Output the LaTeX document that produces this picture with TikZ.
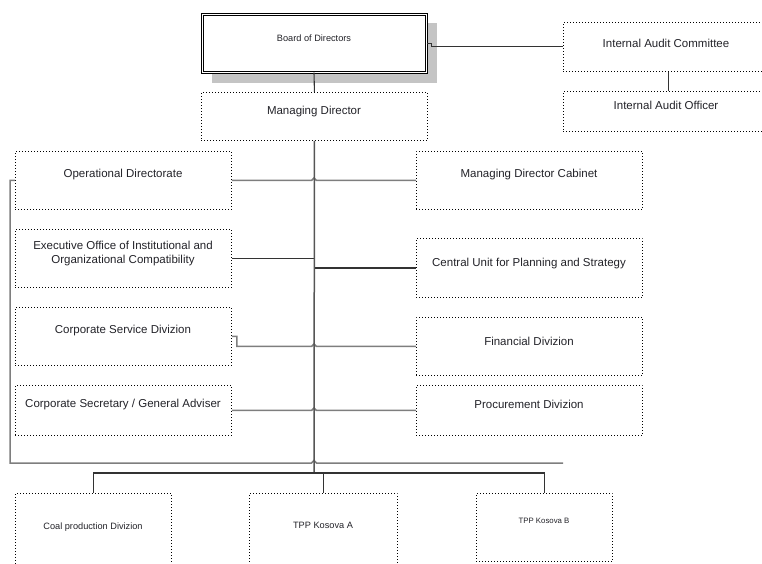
\documentclass[tikz,border=0pt]{standalone}
\usepackage{fontspec}
\setmainfont{Liberation Sans}
\usetikzlibrary{calc}
\definecolor{txt}{HTML}{222228}
\definecolor{lgray}{HTML}{7E7E7E}
\definecolor{dkline}{HTML}{333333}
\definecolor{trunkc}{HTML}{555555}
\definecolor{shadowc}{HTML}{C4C4C4}
\begin{document}
\begin{tikzpicture}[x=1pt,y=-1pt,
  box/.style={draw=black, line width=0.9pt, dash pattern=on 0.9pt off 2.1pt, rectangle, inner sep=0pt, anchor=north west},
  lbl/.style={text=txt, font=\fontsize{11.5}{14}\selectfont, align=center, inner sep=0pt, yshift=-2.5pt},
  slbl/.style={text=txt, font=\fontsize{9.2}{11}\selectfont, align=center, inner sep=0pt, yshift=-1.5pt},
  dk/.style={draw=dkline, line width=1.1pt},
  gr/.style={draw=lgray, line width=1.5pt},
  tr/.style={draw=trunkc, line width=1.5pt},
]
\useasboundingbox (0,0) rectangle (762,564);
% Board of Directors with shadow
\fill[shadowc] (212,23) rectangle (437,83);
\node[draw=black, double, double distance=1.6pt, line width=0.7pt, fill=white, rectangle, inner sep=0pt,
      minimum width=224pt, minimum height=58pt, anchor=north west] (bod) at (202,14) {};
\node[slbl] (bodt) at (314,37) {Board of Directors};
% top boxes
\node[box, minimum width=226pt, minimum height=48pt] (md) at (201,92) {};
\node[lbl] (mdt) at (314,109) {Managing Director};
\node[box, minimum width=210pt, minimum height=49pt] (iac) at (563,22) {};
\node[lbl] (iact) at (666,41) {Internal Audit Committee};
\node[box, minimum width=210pt, minimum height=40pt] (iao) at (563,91) {};
\node[lbl] (iaot) at (666,103) {Internal Audit Officer};
% left column
\node[box, minimum width=216pt, minimum height=58pt] (opd) at (15,151) {};
\node[lbl] (opdt) at (123,172) {Operational Directorate};
\node[box, minimum width=216pt, minimum height=58pt] (exo) at (15,229) {};
\node[lbl] (exot) at (123,251) {Executive Office of Institutional and\\Organizational Compatibility};
\node[box, minimum width=216pt, minimum height=58pt] (csd) at (15,307) {};
\node[lbl] (csdt) at (123,328) {Corporate Service Divizion};
\node[box, minimum width=216pt, minimum height=50pt] (csg) at (15,385) {};
\node[lbl] (csgt) at (123,402) {Corporate Secretary / General Adviser};
% right column
\node[box, minimum width=226pt, minimum height=58pt] (mdc) at (416,151) {};
\node[lbl] (mdct) at (529,172) {Managing Director Cabinet};
\node[box, minimum width=226pt, minimum height=59pt] (cup) at (416,238) {};
\node[lbl] (cupt) at (529,261) {Central Unit for Planning and Strategy};
\node[box, minimum width=226pt, minimum height=58pt] (fin) at (416,317) {};
\node[lbl] (fint) at (529,339) {Financial Divizion};
\node[box, minimum width=226pt, minimum height=50pt] (prc) at (416,385) {};
\node[lbl] (prct) at (529,402) {Procurement Divizion};
% bottom row
\node[box, minimum width=156pt, minimum height=80pt] (coal) at (15,493) {};
\node[slbl] (coalt) at (93,526) {Coal production Divizion};
\node[box, minimum width=148pt, minimum height=80pt] (tppa) at (249,493) {};
\node[slbl] (tppat) at (323,524) {TPP Kosova A};
\node[box, minimum width=136pt, minimum height=68pt] (tppb) at (476,493) {};
\node[text=txt, font=\fontsize{7.8}{9}\selectfont, inner sep=0pt, yshift=-1pt] (tppbt) at (544,520) {TPP Kosova B};
% coordinates
\coordinate (tx) at (314,0);
\coordinate (bus) at (314,473);
\coordinate (gline) at (314,463);
\coordinate (gend) at (563,463);
% connectors top
\draw[dk] (bod.south -| tx) -- (md.north);
\draw[dk] (bod.east) -- ++(5,0) |- (iac.west);
\draw[dk] (iac.south) -- (iao.north);
% gray hop lines
\draw[gr] (opd.east) -- ($(tx|-opd.east)+(-2.5,0)$) -- ++(2.5,-2.5) -- ++(2.5,2.5) -- (mdc.west);
\draw[gr] (csd.east) -- ++(5,0) -- ($(csd.east)+(5,10)$) -- ($(tx|-fin.west)+(-2.5,0)$) -- ++(2.5,-2.5) -- ++(2.5,2.5) -- (fin.west);
\draw[gr] (csg.east) -- ($(tx|-csg.east)+(-2.5,0)$) -- ++(2.5,-2.5) -- ++(2.5,2.5) -- (prc.west);
\draw[gr] (opd.west) -- ++(-5,0) |- ($(gline)+(-2.5,0)$) -- ++(2.5,-2.5) -- ++(2.5,2.5) -- (gend);
% dark lines
\draw[dk] (exo.east) -- (tx|-exo.east);
\draw[dk] (tx|-cup.west) -- (cup.west);
\draw[tr] (md.south) -- (bus);
\draw[dk] (coal.north) |- (bus) -| (tppb.north);
\draw[dk] (tppa.north) -- (tppa.north |- bus);
\end{tikzpicture}
\end{document}
